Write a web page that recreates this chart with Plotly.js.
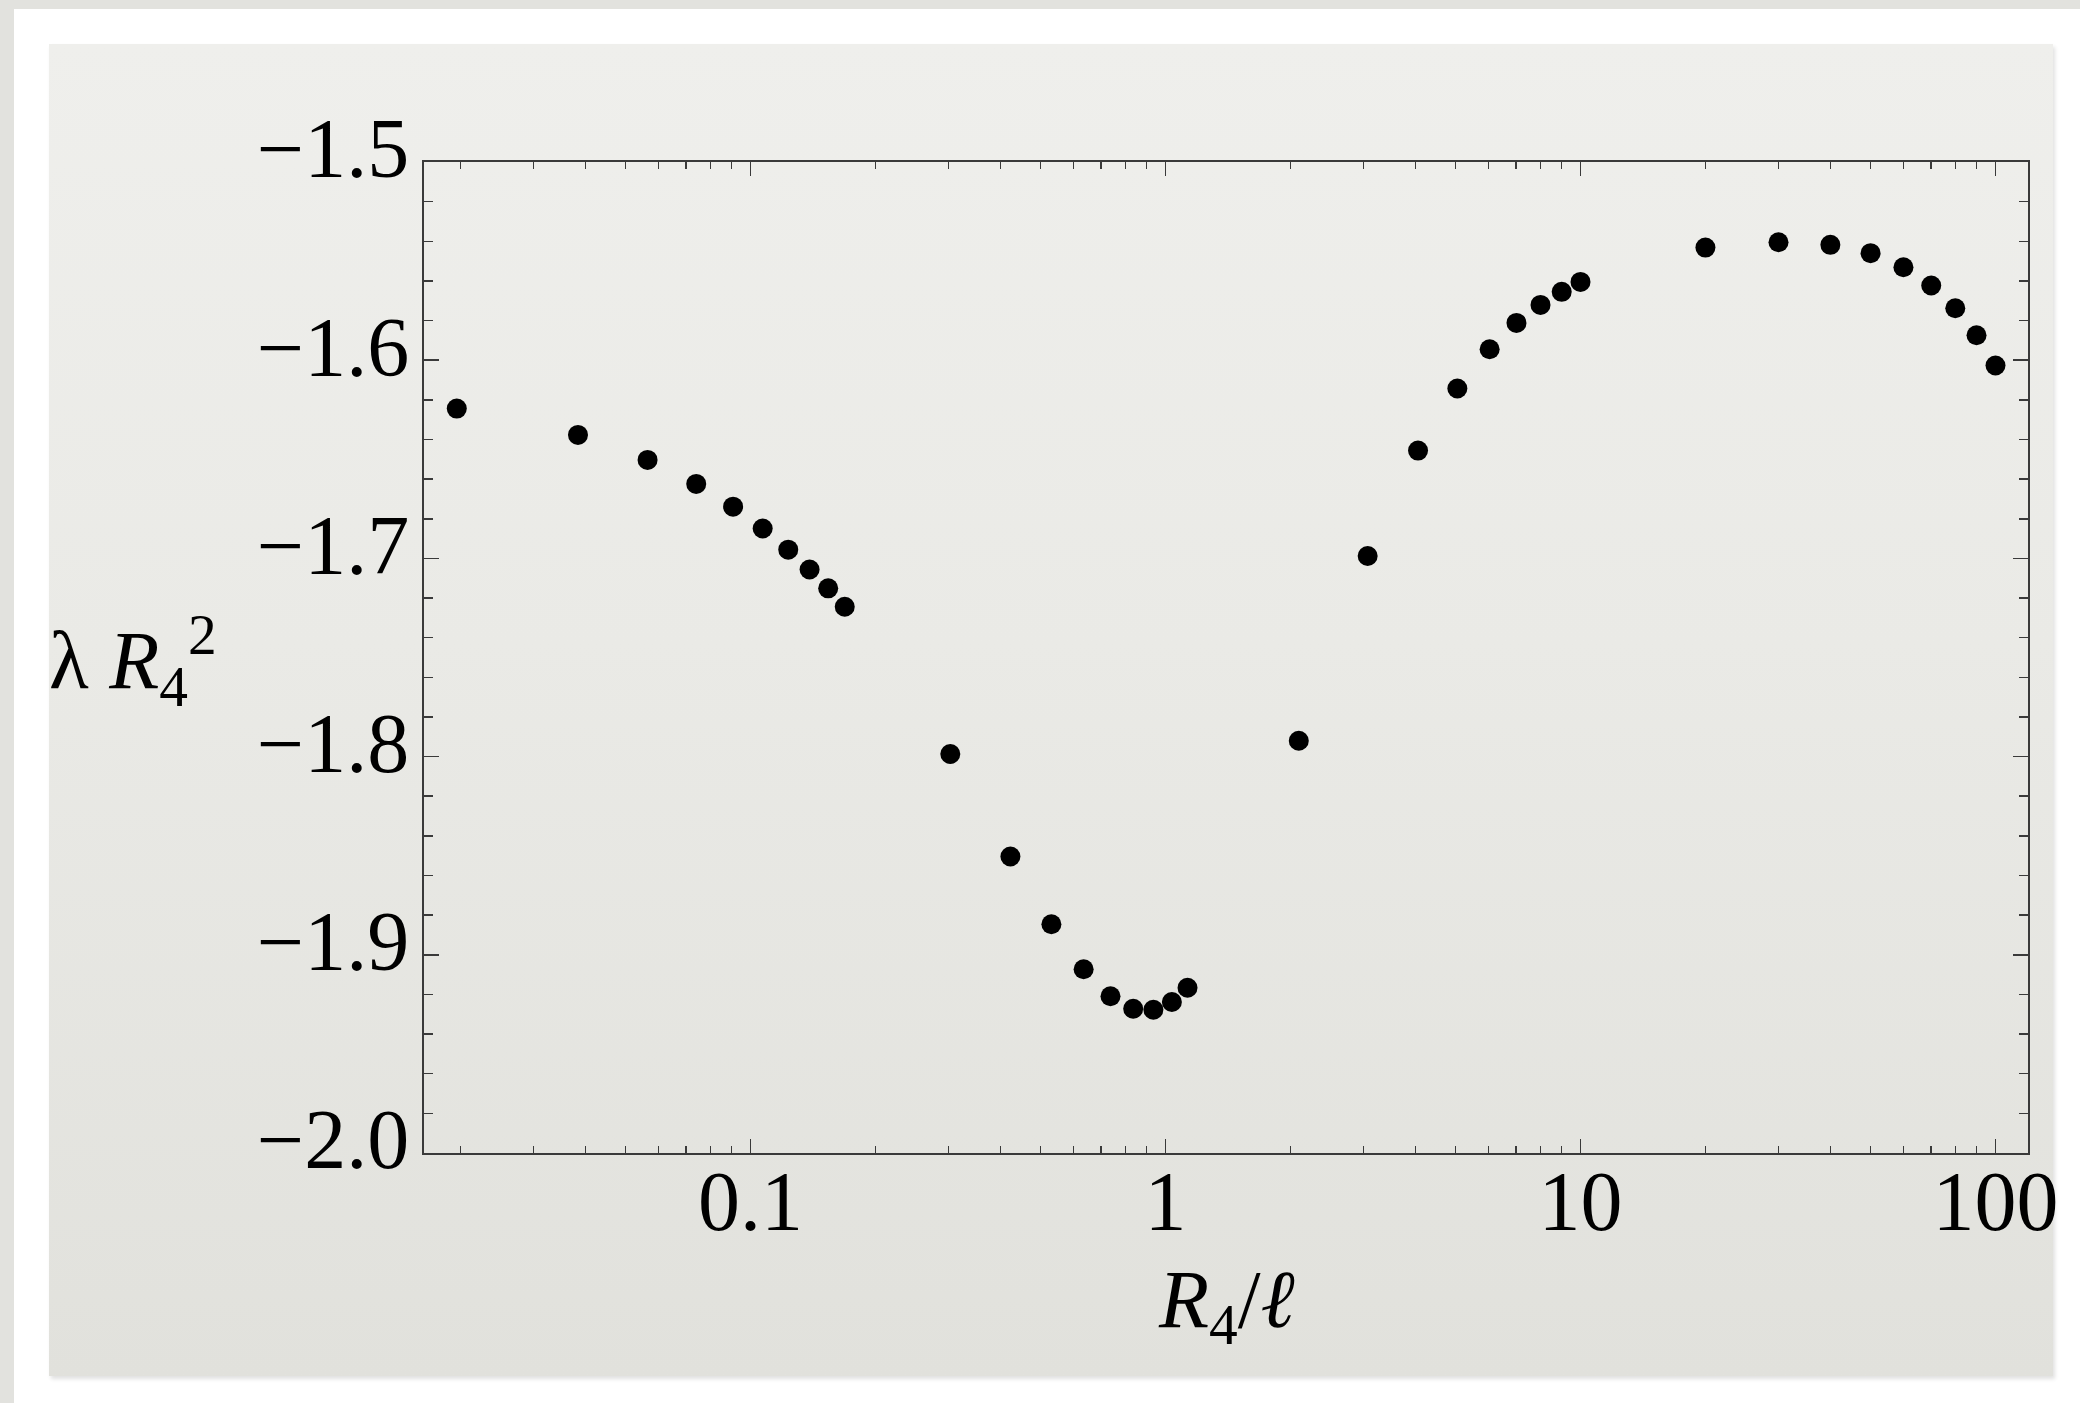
<!DOCTYPE html>
<html>
<head>
<meta charset="utf-8">
<script src="https://cdn.plot.ly/plotly-3.0.1.min.js"></script>
<style>
  html, body { margin: 0; padding: 0; width: 2080px; height: 1403px; overflow: hidden; }
  body { background: #e2e2de; position: relative; }
  #frame { position: absolute; left: 14px; top: 9px; width: 2066px; height: 1394px; background: #ffffff; }
  #panel { position: absolute; left: 49px; top: 44px; width: 2004px; height: 1332px;
           background: linear-gradient(to bottom, #efefec 0%, #eaeae6 45%, #e1e1dc 100%);
           box-shadow: 2px 3px 4px rgba(0,0,0,0.12); }
  #chart { position: absolute; left: 0; top: 0; width: 2080px; height: 1403px; }
</style>
</head>
<body>
<div id="frame"></div>
<div id="panel"></div>
<div id="chart"></div>
<script>
// R4/l values (x) and lambda R4^2 values (y)
const xSmall  = [0.0196, 0.0384, 0.0565, 0.0740, 0.0908, 0.107, 0.1233, 0.1388, 0.1539, 0.1687];
const ySmall  = [-1.6244, -1.6377, -1.6503, -1.6624, -1.6739, -1.6849, -1.6956, -1.7056, -1.7151, -1.7244];
const xMid    = [0.303, 0.423, 0.531, 0.635, 0.737, 0.836, 0.935, 1.036, 1.13];
const yMid    = [-1.7987, -1.8504, -1.8846, -1.9073, -1.9209, -1.9272, -1.9277, -1.9238, -1.9166];
const xUpper  = [2.095, 3.07, 4.06, 5.05, 6.04, 7.01, 8.01, 9.01, 10];
const yUpper  = [-1.792, -1.6988, -1.6456, -1.6143, -1.5945, -1.5812, -1.5721, -1.5655, -1.5605];
const xLarge  = [20, 30, 40, 50, 60, 70, 80, 90, 100];
const yLarge  = [-1.5432, -1.5405, -1.5418, -1.546, -1.5531, -1.5623, -1.5738, -1.5874, -1.6027];

const xTickVals = [0.1, 1, 10, 100];
const xTickText = ['0.1', '1', '10', '100'];
const yTickVals = [-2.0, -1.9, -1.8, -1.7, -1.6, -1.5];

const xAll = xSmall.concat(xMid, xUpper, xLarge);
const yAll = ySmall.concat(yMid, yUpper, yLarge);

const axisColor = '#3a3a3a';
const serif = '"Liberation Serif", "DejaVu Serif", serif';

const trace = {
  x: xAll, y: yAll, type: 'scatter', mode: 'markers',
  marker: { color: '#000000', size: 20, line: { width: 0 } },
  hoverinfo: 'x+y', showlegend: false
};

const layout = {
  width: 2080, height: 1403,
  margin: { l: 424, r: 52, t: 162, b: 250, pad: 0 },
  paper_bgcolor: 'rgba(0,0,0,0)',
  plot_bgcolor: 'rgba(0,0,0,0)',
  font: { family: serif, color: '#000000', size: 84 },
  xaxis: {
    type: 'log', range: [-1.7867, 2.0783], autorange: false,
    tickmode: 'array', tickvals: xTickVals, ticktext: xTickText,
    ticks: 'inside', ticklen: 14, tickwidth: 1.5, tickcolor: axisColor,
    minor: { ticks: 'inside', ticklen: 7, tickwidth: 1.5, tickcolor: axisColor, dtick: 'D1', showgrid: false },
    showline: true, linecolor: axisColor, linewidth: 2, mirror: 'ticks',
    showgrid: false, zeroline: false,
    tickfont: { family: serif, size: 84, color: '#000000' },
    ticklabelstandoff: -26
  },
  yaxis: {
    range: [-2.0, -1.5], autorange: false,
    tickmode: 'array', tickvals: yTickVals, tickformat: '.1f',
    ticks: 'inside', ticklen: 15, tickwidth: 1.5, tickcolor: axisColor,
    minor: { ticks: 'inside', ticklen: 9, tickwidth: 1.5, tickcolor: axisColor, dtick: 0.02, showgrid: false },
    showline: true, linecolor: axisColor, linewidth: 2, mirror: 'ticks',
    showgrid: false, zeroline: false,
    tickfont: { family: serif, size: 84, color: '#000000' },
    ticklabelstandoff: -4,
    ticklabelshift: -14
  },
  annotations: [
    {
      text: '<i>R</i><sub>4</sub>/<i>ℓ</i>',
      xref: 'paper', yref: 'paper', x: 0.5, y: -0.153,
      xanchor: 'center', yanchor: 'middle', showarrow: false,
      font: { family: serif, size: 82, color: '#000000' }
    },
    {
      text: 'λ <i>R</i><sub>4</sub><sup>2</sup>',
      xref: 'paper', yref: 'paper', x: -0.1817, y: 0.497,
      xanchor: 'center', yanchor: 'middle', showarrow: false,
      font: { family: serif, size: 82, color: '#000000' }
    }
  ]
};

Plotly.newPlot('chart', [trace], layout, { displayModeBar: false, staticPlot: true });
</script>
</body>
</html>
